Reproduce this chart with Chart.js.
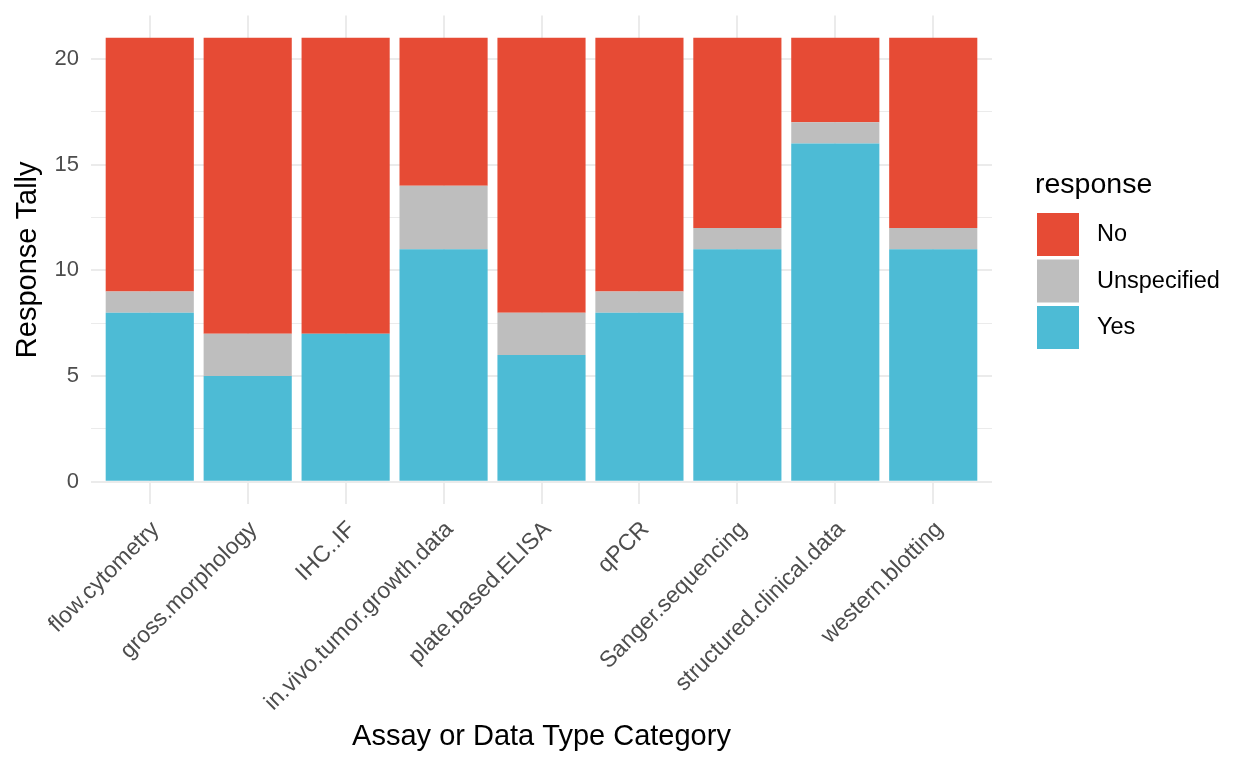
<!DOCTYPE html>
<html>
<head>
<meta charset="utf-8">
<script src="https://cdn.jsdelivr.net/npm/chart.js@4.4.1/dist/chart.umd.min.js"></script>
<style>
  html, body { margin: 0; padding: 0; background: #fff; }
  #wrap { width: 1248px; height: 768px; }
</style>
</head>
<body>
<div id="wrap"><canvas id="chart1" width="1248" height="768"></canvas></div>
<script>
const categories = ['flow.cytometry', 'gross.morphology', 'IHC..IF', 'in.vivo.tumor.growth.data', 'plate.based.ELISA', 'qPCR', 'Sanger.sequencing', 'structured.clinical.data', 'western.blotting'];
const yesCounts = [8, 5, 7, 11, 6, 8, 11, 16, 11];
const unspecifiedCounts = [1, 2, 0, 3, 2, 1, 1, 1, 1];
const noCounts = [12, 14, 14, 7, 13, 12, 9, 4, 9];
const yTicks = [0, 2.5, 5, 7.5, 10, 12.5, 15, 17.5, 20];
const responseLabels = ['Yes', 'Unspecified', 'No'];
const responseColors = ['#4DBBD5', '#BEBEBE', '#E64B35'];

const gridColor = '#EBEBEB';
const tickColor = '#4D4D4D';
Chart.defaults.font.family = '"Liberation Sans", Arial, Helvetica, sans-serif';

function toPoints(values) {
  return values.map((v, i) => ({ x: i, y: v }));
}

// ggplot-like legend drawn at the right, top item is last dataset
const sideLegend = {
  id: 'sideLegend',
  afterDraw(chart) {
    const ctx = chart.ctx;
    const left = chart.chartArea.right + 45;
    ctx.save();
    ctx.fillStyle = '#000';
    ctx.font = '28.5px "Liberation Sans", Arial, sans-serif';
    ctx.textBaseline = 'alphabetic';
    ctx.textAlign = 'left';
    ctx.fillText('response', left - 2, 193);
    const sets = chart.data.datasets.slice().reverse();
    sets.forEach((ds, i) => {
      const top = 213 + i * 46.5;
      ctx.fillStyle = ds.backgroundColor;
      ctx.fillRect(left, top, 42, 43);
      ctx.fillStyle = '#000';
      ctx.font = '23.5px "Liberation Sans", Arial, sans-serif';
      ctx.textBaseline = 'middle';
      ctx.fillText(ds.label, left + 60, top + 22);
    });
    ctx.restore();
  }
};

var ctx = document.getElementById('chart1');
var myChart = new Chart(ctx, {
  type: 'bar',
  data: {
    datasets: [
      { label: responseLabels[0], data: toPoints(yesCounts), backgroundColor: responseColors[0] },
      { label: responseLabels[1], data: toPoints(unspecifiedCounts), backgroundColor: responseColors[1] },
      { label: responseLabels[2], data: toPoints(noCounts), backgroundColor: responseColors[2] }
    ]
  },
  options: {
    responsive: false,
    animation: false,
    devicePixelRatio: 1,
    barPercentage: 0.9,
    categoryPercentage: 1,
    layout: { padding: { left: 11, right: 256, top: 15.6, bottom: 14 } },
    plugins: {
      legend: { display: false },
      tooltip: { enabled: false }
    },
    scales: {
      x: {
        type: 'linear',
        stacked: true,
        offset: false,
        min: -0.6,
        max: 8.6,
        afterBuildTicks: (scale) => {
          scale.ticks = categories.map((c, i) => ({ value: i }));
        },
        afterFit: (scale) => {
          scale.height = 250;
          scale.paddingLeft = 0;
          scale.paddingRight = 0;
        },
        ticks: {
          callback: (v) => categories[v],
          autoSkip: false,
          minRotation: 45,
          maxRotation: 45,
          color: tickColor,
          font: { size: 23 },
          padding: 12,
          labelOffset: 6
        },
        grid: { color: gridColor, lineWidth: 2, drawTicks: false, offset: false },
        border: { display: false },
        title: {
          display: true,
          text: 'Assay or Data Type Category',
          color: '#000',
          font: { size: 29 },
          padding: 0
        }
      },
      y: {
        stacked: true,
        min: -1.05,
        max: 22.05,
        afterBuildTicks: (scale) => {
          scale.ticks = yTicks.map((v) => ({ value: v }));
        },
        afterFit: (scale) => {
          scale.width = 80;
          scale.paddingTop = 0;
          scale.paddingBottom = 0;
        },
        ticks: {
          callback: (v) => (v % 5 === 0 ? v : ''),
          color: tickColor,
          font: { size: 22 },
          padding: 12
        },
        grid: {
          color: gridColor,
          lineWidth: (c) => (c.tick && c.tick.value % 5 === 0 ? 2 : 1),
          drawTicks: false
        },
        border: { display: false },
        title: {
          display: true,
          text: 'Response Tally',
          color: '#000',
          font: { size: 29 },
          padding: { top: 0, bottom: 9 }
        }
      }
    }
  },
  plugins: [sideLegend]
});
</script>
</body>
</html>
